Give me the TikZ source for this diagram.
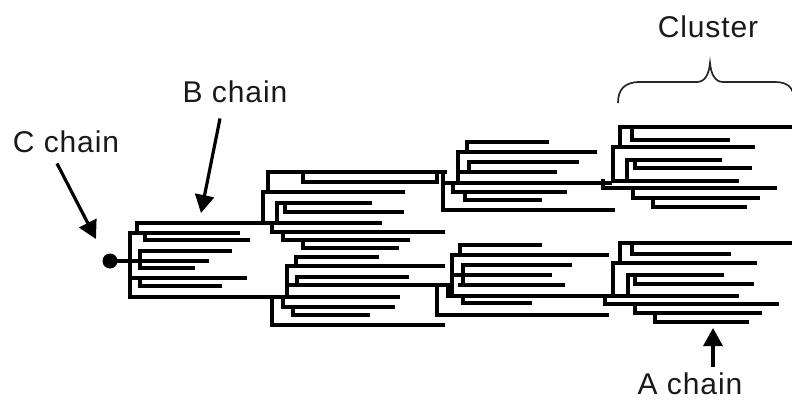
\documentclass[tikz,border=0pt]{standalone}
\usepackage{fontspec}
\setmainfont{Liberation Sans}[LetterSpace=3]
\usetikzlibrary{arrows.meta}
\begin{document}
\begin{tikzpicture}[x=1pt,y=-1pt,
  branch/.style={line width=3.3pt, line cap=rect, black},
  pointer/.style={line width=3.2pt, -{Triangle[length=18pt,width=19pt]}},
  chainlabel/.style={inner sep=0pt, anchor=base, font=\fontsize{30}{36}\selectfont, text=black!90},
  bracket/.style={line width=1.7pt, black!85},
]
\useasboundingbox (0,0) rectangle (792,401);

% horizontal branches: y / x start / x end
\foreach \y/\a/\b in {
  % core generation (B chain)
  261/110/207, 223/137/380, 233/130/238, 240/145/248, 251/140/230,
  268/140/193, 278/130/245, 286/140/220, 297/130/398,
  % second generation, upper
  172/268/445, 182/303/437, 192/263/403, 203/277/370, 212/285/402,
  232/272/443, 240/283/408, 248/303/397,
  % second generation, lower
  257/296/377, 266/287/443, 277/297/407, 285/287/448, 307/283/393,
  315/293/368, 325/272/443,
  % third generation, upper
  142/467/547, 152/458/595, 162/469/577, 172/458/555, 183/443/610,
  192/453/565, 200/465/540, 210/443/613,
  % third generation, lower
  245/460/540, 255/452/607, 265/463/570, 275/452/550, 285/460/563,
  296/448/612, 303/463/530, 315/437/607,
  % outer cluster, upper
  127/620/792, 140/632/728, 147/613/753, 160/627/720, 168/635/750,
  181/613/737, 188/603/775, 198/633/758, 207/653/745,
  % outer cluster, lower
  243/620/792, 254/632/729, 263/613/755, 275/628/722, 284/635/752,
  296/613/737, 304/605/777, 313/635/760, 322/655/747}
  \draw[branch] (\a,\y) -- (\b,\y);

% vertical joints: x / y start / y end
\foreach \x/\a/\b in {
  130/233/297, 137/223/233, 145/233/240, 140/251/268, 140/278/286,
  268/172/192, 303/172/182, 263/192/223, 277/203/223, 285/203/212,
  272/223/232, 283/232/240, 303/240/248, 443/172/210, 437/172/182,
  296/257/266, 287/266/297, 297/277/285, 283/297/307, 293/307/315,
  272/297/325, 437/285/315,
  467/142/152, 458/152/183, 469/162/172, 453/183/192, 465/192/200,
  460/245/255, 452/255/296, 463/265/285, 448/285/296, 463/296/303,
  620/127/147, 632/127/140, 613/147/181, 627/160/181, 635/160/168,
  603/181/188, 633/188/198, 653/198/207,
  620/243/263, 632/243/254, 613/263/296, 628/275/296, 635/275/284,
  605/296/304, 635/304/313, 655/313/322}
  \draw[branch] (\x,\a) -- (\x,\b);

% core bead
\node[circle, fill=black, minimum size=15pt, inner sep=0pt] (core) at (110,261) {};

% labels
\node[chainlabel] (clab) at (66,152) {C chain};
\node[chainlabel] (blab) at (235,103) {B chain};
\node[chainlabel] (clus) at (708,38) {Cluster};
\node[chainlabel] (alab) at (690,394) {A chain};

% arrow targets
\coordinate (ctip) at (96,239);
\coordinate (btip) at (201,213);
\coordinate (atip) at (713,328);

\draw[pointer] ([xshift=-9pt,yshift=-11pt]clab.south) -- (ctip);
\draw[pointer] ([xshift=-15pt,yshift=-15pt]blab.south) -- (btip);
\draw[pointer] ([xshift=23pt,yshift=5pt]alab.north) -- (atip);

% brace over the outer cluster
\draw[bracket] (618,103) .. controls (618,90) and (624,82) .. (640,82)
  -- (697,82) .. controls (705,82) and (709,74) .. (710,63)
  .. controls (711,74) and (715,82) .. (723,82)
  -- (775,82) .. controls (788,82) and (794,88) .. (794,100);
\end{tikzpicture}
\end{document}
